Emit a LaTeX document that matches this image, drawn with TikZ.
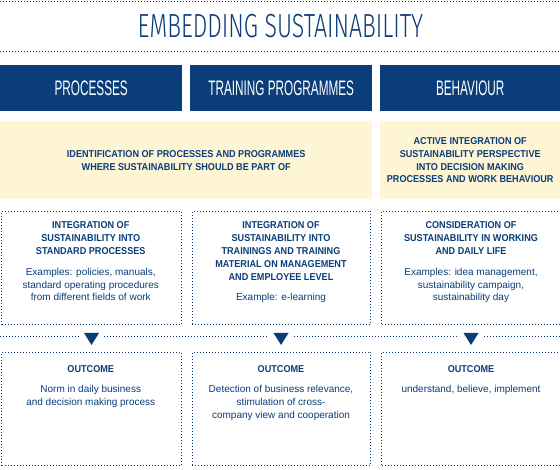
\documentclass[tikz,border=0pt]{standalone}
\usepackage{fontspec}
\setmainfont{Liberation Sans}
\newfontfamily\titlef[FakeStretch=0.69]{Fira Sans Light}
\newfontfamily\headf[FakeStretch=0.56]{Liberation Sans}
\newfontfamily\capf[FakeStretch=0.91]{Liberation Sans}
\newfontfamily\textf{Liberation Sans}
\definecolor{dinblue}{HTML}{0A3D7A}
\definecolor{pale}{HTML}{FEF5D4}
\begin{document}
\begin{tikzpicture}[x=1pt,y=-1pt,
  dots/.style={draw=dinblue, line width=1pt, dash pattern=on 1pt off 2pt},
  hdr/.style={fill=dinblue, text=white, minimum height=46pt, inner sep=0pt,
    anchor=north west, font=\headf\fontsize{21}{21}\selectfont},
  ybox/.style={fill=pale, text=dinblue, minimum height=78pt, inner sep=0pt,
    anchor=north west, align=center, font=\capf\bfseries\fontsize{10}{12.9}\selectfont},
  frame/.style={dots, minimum height=113.5pt, inner sep=0pt, anchor=north west},
  head/.style={text=dinblue, inner sep=0pt, anchor=north, align=center,
    font=\capf\bfseries\fontsize{10}{12.9}\selectfont},
  body/.style={text=dinblue, inner sep=0pt, anchor=north, align=center,
    font=\textf\fontsize{10}{12.9}\selectfont},
  tri/.style={fill=dinblue}
]
\useasboundingbox (0,0) rectangle (560,470);
\fill[white] (0,0) rectangle (560,470);

% title and rules
\coordinate (r1a) at (0,1.5); \coordinate (r1b) at (560,1.5);
\coordinate (r2a) at (0,52); \coordinate (r2b) at (560,52);
\draw[dots] (r1a) -- (r1b);
\draw[dots] (r2a) -- (r2b);
\node[text=dinblue, inner sep=0pt, font=\titlef\fontsize{33.4}{33.4}\selectfont] (title) at (280.5,26.5) {EMBEDDING SUSTAINABILITY};

% header boxes
\node[hdr, minimum width=182pt] (h1) at (0,65) {PROCESSES};
\node[hdr, minimum width=182pt] (h2) at (190,65) {TRAINING PROGRAMMES};
\node[hdr, minimum width=180pt] (h3) at (380,65) {BEHAVIOUR};

% yellow boxes
\node[ybox, minimum width=372pt] (y1) at (0,121) {IDENTIFICATION OF PROCESSES AND PROGRAMMES\\WHERE SUSTAINABILITY SHOULD BE PART OF};
\node[ybox, minimum width=180pt] (y2) at (380,121) {ACTIVE INTEGRATION OF\\SUSTAINABILITY PERSPECTIVE\\INTO DECISION MAKING\\PROCESSES AND WORK BEHAVIOUR};

% middle frames
\node[frame, minimum width=179.5pt] (m1) at (1,211) {};
\node[frame, minimum width=178.5pt] (m2) at (191.5,211) {};
\node[frame, minimum width=180pt] (m3) at (381.3,211) {};

\node[head] (m1h) at (90.75,221.7) {INTEGRATION OF\\SUSTAINABILITY INTO\\STANDARD PROCESSES};
\node[body] (m1b) at (90.75,267.7) {Examples: policies, manuals,\\standard operating procedures\\from different fields of work};
\node[head] (m2h) at (281,221.7) {INTEGRATION OF\\SUSTAINABILITY INTO\\TRAININGS AND TRAINING\\MATERIAL ON MANAGEMENT\\AND EMPLOYEE LEVEL};
\node[body] (m2b) at (281,293.3) {Example: e-learning};
\node[head] (m3h) at (471,221.7) {CONSIDERATION OF\\SUSTAINABILITY IN WORKING\\AND DAILY LIFE};
\node[body] (m3b) at (471,267.7) {Examples: idea management,\\sustainability campaign,\\sustainability day};

% arrow row
\coordinate (a0) at (0,337);
\coordinate (a1l) at (79,337); \coordinate (a1r) at (104,337);
\coordinate (a2l) at (268.5,337); \coordinate (a2r) at (293.5,337);
\coordinate (a3l) at (458.5,337); \coordinate (a3r) at (483.5,337);
\coordinate (a4) at (560,337);
\draw[dots] (a0) -- (a1l);
\draw[dots] (a1r) -- (a2l);
\draw[dots] (a2r) -- (a3l);
\draw[dots] (a3r) -- (a4);
\coordinate (t1) at (91.5,333);
\coordinate (t2) at (281,333);
\coordinate (t3) at (471,333);
\foreach \t in {t1,t2,t3}
  \fill[tri] (\t) ++(-7.5,0) -- ++(15,0) -- ++(-7.5,12) -- cycle;

% bottom frames
\node[frame, minimum width=179.5pt] (o1) at (1,351.7) {};
\node[frame, minimum width=178.5pt] (o2) at (191.5,351.7) {};
\node[frame, minimum width=180pt] (o3) at (381.3,351.7) {};

\node[head] (o1h) at (90.75,365) {OUTCOME};
\node[body] (o1b) at (90.75,385) {Norm in daily business\\and decision making process};
\node[head] (o2h) at (281,365) {OUTCOME};
\node[body] (o2b) at (281,385) {Detection of business relevance,\\stimulation of cross-\\company view and cooperation};
\node[head] (o3h) at (471,365) {OUTCOME};
\node[body] (o3b) at (471,385) {understand, believe, implement};
\end{tikzpicture}
\end{document}
